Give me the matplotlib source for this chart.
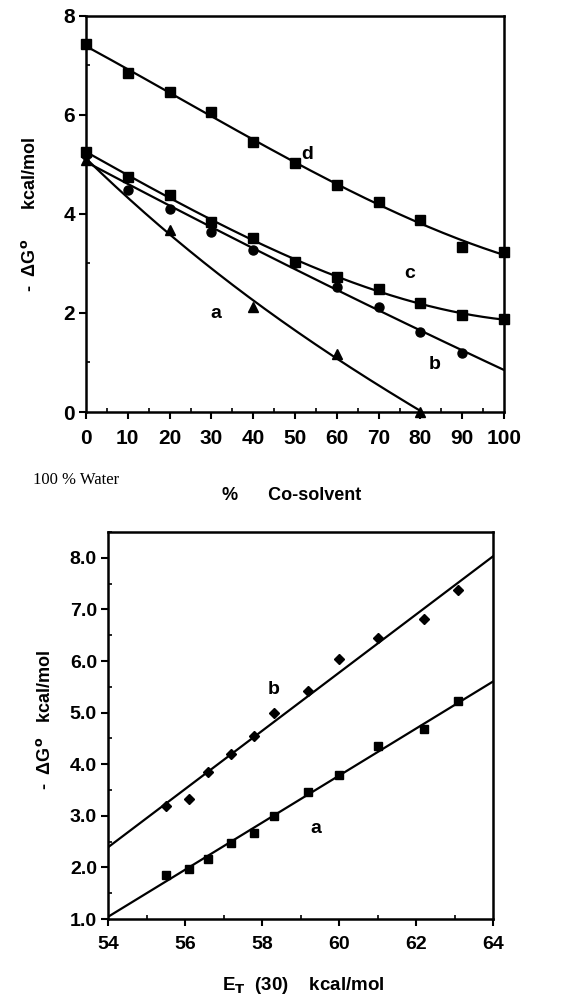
import numpy as np
import matplotlib.pyplot as plt
from matplotlib.ticker import MultipleLocator

plt.rcParams['font.family'] = ['Liberation Sans', 'DejaVu Sans']
plt.rcParams['font.weight'] = 'bold'

# top panel: % co-solvent vs -dG
pct = [0, 10, 20, 30, 40, 50, 60, 70, 80, 90, 100]
dg_d = [7.43, 6.84, 6.46, 6.06, 5.45, 5.03, 4.59, 4.24, 3.87, 3.33, 3.23]
dg_c = [5.26, 4.75, 4.39, 3.84, 3.51, 3.03, 2.72, 2.49, 2.20, 1.95, 1.88]
pct_b = [0, 10, 20, 30, 40, 50, 60, 70, 80, 90]
dg_b = [5.20, 4.49, 4.11, 3.64, 3.28, 3.00, 2.52, 2.13, 1.61, 1.19]
pct_a = [0, 20, 40, 60, 80]
dg_a = [5.10, 3.68, 2.12, 1.17, 0.0]

# bottom panel: ET(30) vs -dG
et = [55.5, 56.1, 56.6, 57.2, 57.8, 58.3, 59.2, 60.0, 61.02, 62.2, 63.1]
et_b = [3.19, 3.32, 3.84, 4.20, 4.55, 5.00, 5.42, 6.03, 6.44, 6.81, 7.38]
et_a = [1.86, 1.96, 2.17, 2.48, 2.66, 3.00, 3.46, 3.80, 4.35, 4.68, 5.22]

fig = plt.figure(figsize=(5.79, 9.97), dpi=100)
W, H = 579, 997

def box(l, t, r, b):
    return [l / W, 1 - b / H, (r - l) / W, (b - t) / H]

def style(ax, size):
    for s in ax.spines.values():
        s.set_linewidth(1.8)
    ax.tick_params(which='major', direction='out', length=5, width=1.5,
                   labelsize=size)
    ax.tick_params(axis='x', which='major', pad=7)
    ax.tick_params(axis='y', which='major', pad=3)
    ax.tick_params(which='minor', direction='in', length=3, width=1.2)
    for lab in ax.get_xticklabels() + ax.get_yticklabels():
        lab.set_fontweight('bold')

# ---- top panel
ax1 = fig.add_axes(box(86, 16, 504, 412))
xx = np.linspace(0, 100, 200)
for xs, ys, mk, xmax, deg in [(pct, dg_d, 's', 100, 3), (pct, dg_c, 's', 100, 3),
                              (pct_b, dg_b, 'o', 100, 2), (pct_a, dg_a, '^', 80, 3)]:
    p = np.polyfit(xs, ys, deg)
    xl = xx[xx <= xmax]
    ax1.plot(xl, np.polyval(p, xl), color='black', lw=1.6)
    ax1.plot(xs, ys, mk, color='black', ms=6.5, clip_on=False)
ax1.set_xlim(0, 100)
ax1.set_ylim(0, 8)
ax1.set_xticks(range(0, 101, 10))
ax1.set_yticks([0, 2, 4, 6, 8])
ax1.xaxis.set_minor_locator(MultipleLocator(5))
ax1.yaxis.set_minor_locator(MultipleLocator(1))
style(ax1, 15)
for t, x, y in [('d', 53, 5.2), ('c', 77.5, 2.8), ('b', 83.5, 0.95), ('a', 31, 2.0)]:
    ax1.text(x, y, t, fontsize=14, fontweight='bold', ha='center', va='center')
fig.text(30 / W, 1 - 214 / H, '-  \u0394G$^\\mathbf{o}$      kcal/mol', rotation=90,
         fontsize=13, fontweight='bold', ha='center', va='center')
fig.text(33 / W, 1 - 480 / H, '100 % Water', family='Liberation Serif',
         fontsize=12, fontweight='normal', ha='left', va='center')
fig.text(292 / W, 1 - 495 / H, '%      Co-solvent', fontsize=13,
         fontweight='bold', ha='center', va='center')

# ---- bottom panel
ax2 = fig.add_axes(box(108, 532, 493, 919))
xl = np.linspace(54, 64, 50)
for ys, mk in [(et_b, 'D'), (et_a, 's')]:
    p = np.polyfit(et, ys, 1)
    ax2.plot(xl, np.polyval(p, xl), color='black', lw=1.6)
    ax2.plot(et, ys, mk, color='black', ms=6 if mk == 's' else 5)
ax2.set_xlim(54, 64)
ax2.set_ylim(1.0, 8.5)
ax2.set_xticks(range(54, 65, 2))
ax2.set_yticks(np.arange(1, 8.1, 1))
ax2.set_yticklabels(['%.1f' % v for v in np.arange(1, 8.1, 1)])
ax2.xaxis.set_minor_locator(MultipleLocator(1))
ax2.yaxis.set_minor_locator(MultipleLocator(0.5))
style(ax2, 14)
ax2.text(58.3, 5.45, 'b', fontsize=14, fontweight='bold', ha='center', va='center')
ax2.text(59.4, 2.75, 'a', fontsize=14, fontweight='bold', ha='center', va='center')
fig.text(45 / W, 1 - 720 / H, '-  \u0394G$^\\mathbf{o}$   kcal/mol', rotation=90,
         fontsize=13, fontweight='bold', ha='center', va='center')
fig.text(303 / W, 1 - 985 / H, 'E$_\\mathbf{T}$  (30)    kcal/mol', fontsize=13.5,
         fontweight='bold', ha='center', va='center')

fig.savefig('out.png', dpi=100)
